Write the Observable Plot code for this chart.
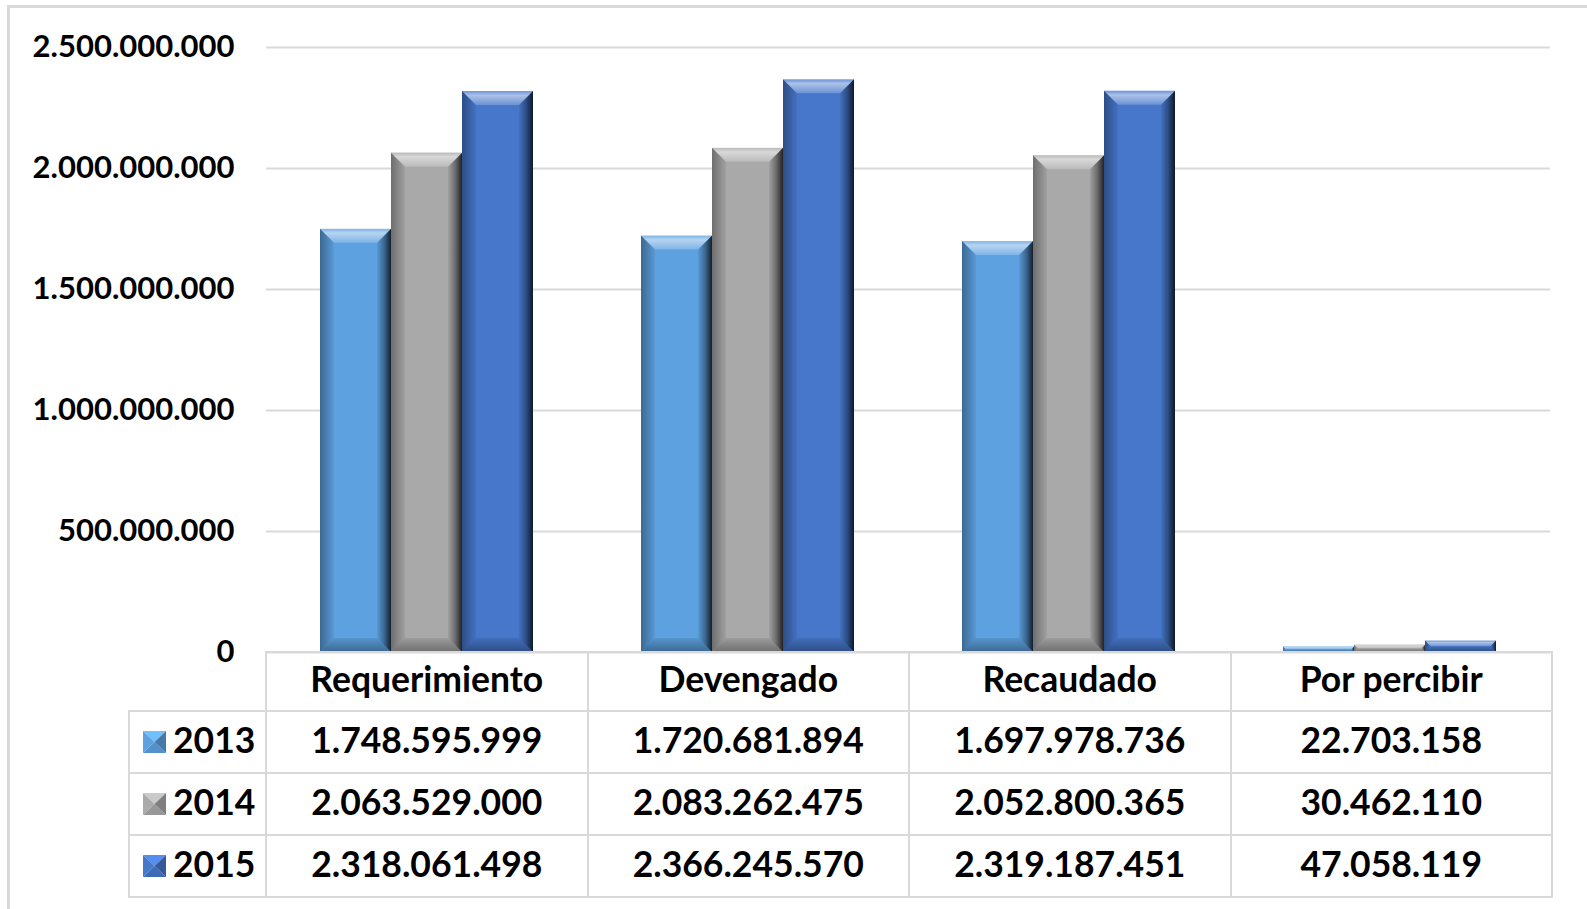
<!DOCTYPE html>
<html>
<head>
<meta charset="utf-8">
<script src="https://cdn.jsdelivr.net/npm/d3@7"></script>
<script src="https://cdn.jsdelivr.net/npm/@observablehq/plot@0.6"></script>
<style>
  html, body { margin: 0; padding: 0; background: #fff; }
  #wrap { position: relative; width: 1587px; height: 909px; overflow: hidden; font-family: Lato, "Open Sans", sans-serif; }
  #frameTop { position: absolute; left: 7px; top: 5px; right: 0; height: 3px; background: #D9D9D9; }
  #frameLeft { position: absolute; left: 7px; top: 5px; width: 3px; bottom: 0; background: #D9D9D9; }
  #chart { position: absolute; left: 0; top: 0; }
  #tbl { position: absolute; left: 128px; top: 651px; border-collapse: collapse; table-layout: fixed; width: 1423px;
         font-family: Lato, sans-serif; font-weight: 700; font-size: 35.5px; color: #000; }
  #tbl td { border: 2px solid #D9D9D9; text-align: center; padding: 0 0 5px 0; line-height: 1; white-space: nowrap; }
  #tbl td.corner { border: none; }
  #tbl tr.head td { height: 52px; }
  #tbl tr.row td { height: 55px; }
  #tbl td.leg { text-align: left; padding-left: 13px; }
  #tbl td.leg div { display: flex; align-items: center; }
  #tbl td.leg svg { margin-right: 7px; margin-top: 4px; }
</style>
</head>
<body>
<div id="wrap">
  <div id="frameTop"></div>
  <div id="frameLeft"></div>
  <div id="chart"></div>
</div>
<script>
const categories = ["Requerimiento", "Devengado", "Recaudado", "Por percibir"];
const years = ["2013", "2014", "2015"];
const values2013 = [1748595999, 1720681894, 1697978736, 22703158];
const values2014 = [2063529000, 2083262475, 2052800365, 30462110];
const values2015 = [2318061498, 2366245570, 2319187451, 47058119];
const yTicks = [0, 500000000, 1000000000, 1500000000, 2000000000, 2500000000];

const series = [values2013, values2014, values2015];
const colors = ["#5DA1E0", "#A9A9A9", "#4677CB"];
const locale = d3.formatLocale({decimal: ",", thousands: ".", grouping: [3], currency: ["", ""]});
const fmt = locale.format(",.0f");

const data = [];
categories.forEach((c, i) => years.forEach((y, j) => data.push({category: c, year: y, value: series[j][i]})));

const chart = Plot.plot({
  width: 1587,
  height: 653,
  marginTop: 47,
  marginBottom: 1,
  marginLeft: 265,
  marginRight: 36,
  style: {fontFamily: "Lato, sans-serif", fontSize: "31px", fontWeight: "700", color: "#000", background: "transparent", overflow: "visible"},
  fx: {domain: categories, padding: 0, axis: null, label: null},
  x: {domain: years, paddingInner: 0, paddingOuter: 0.75, axis: null, label: null},
  y: {domain: [0, 2500000000], axis: null, label: null},
  color: {domain: years, range: colors},
  marks: [
    Plot.gridY(yTicks, {stroke: "#D9D9D9", strokeWidth: 2, strokeOpacity: 1}),
    Plot.barY(data, {fx: "category", x: "year", y: "value", fill: "year"}),
    Plot.axisY(yTicks, {label: null, tickSize: 0, tickPadding: 32, tickFormat: fmt, fontSize: 31, fontWeight: 700, fill: "#000"})
  ]
});
document.getElementById("chart").appendChild(chart);

// bevel decoration derived from the bars Plot rendered
const svg = d3.select(chart.tagName.toLowerCase() === "svg" ? chart : chart.querySelector("svg"));
const defs = svg.insert("defs", ":first-child");
function grad(id, horizontal, stops) {
  const g = defs.append("linearGradient").attr("id", id)
    .attr("x1", 0).attr("y1", 0).attr("x2", horizontal ? 1 : 0).attr("y2", horizontal ? 0 : 1);
  stops.forEach(([o, c, a]) => g.append("stop").attr("offset", o).attr("stop-color", c).attr("stop-opacity", a));
}
grad("bvRight", true, [[0, "#000", 0.05], [0.5, "#000", 0.35], [1, "#000", 0.8]]);
grad("bvLeft", true, [[0, "#000", 0.35], [1, "#000", 0.05]]);
grad("bvTop", false, [[0, "#fff", 0.2], [0.3, "#fff", 0.55], [1, "#fff", 0.2]]);
grad("bvBottom", false, [[0, "#000", 0.08], [1, "#000", 0.35]]);

svg.selectAll('g[aria-label="bar"] rect').each(function () {
  const r = d3.select(this);
  const x0 = +r.attr("x"), y0 = +r.attr("y"), w = +r.attr("width"), h = +r.attr("height");
  const x1 = x0 + w, y1 = y0 + h;
  const b = Math.min(14, h / 2, w / 2);
  const p = d3.select(this.parentNode);
  const poly = (pts, fill) => p.append("polygon").attr("points", pts.map(q => q.join(",")).join(" ")).attr("fill", fill);
  poly([[x0, y0], [x0 + b, y0 + b], [x0 + b, y1 - b], [x0, y1]], "url(#bvLeft)");
  poly([[x1, y0], [x1 - b, y0 + b], [x1 - b, y1 - b], [x1, y1]], "url(#bvRight)");
  poly([[x0, y1], [x1, y1], [x1 - b, y1 - b], [x0 + b, y1 - b]], "url(#bvBottom)");
  poly([[x0, y0], [x1, y0], [x1 - b, y0 + b], [x0 + b, y0 + b]], "url(#bvTop)");
});

// data table below the plot
function swatch(color) {
  const c = d3.color(color);
  const light = c.brighter(0.5).formatHex(), dark = c.darker(0.8).formatHex(), mid = c.darker(0.3).formatHex();
  return `<svg width="23" height="22" viewBox="0 0 23 22">
    <polygon points="0,0 23,0 11.5,11" fill="${light}"/>
    <polygon points="0,22 23,22 11.5,11" fill="${mid}"/>
    <polygon points="0,0 0,22 11.5,11" fill="${c.formatHex()}"/>
    <polygon points="23,0 23,22 11.5,11" fill="${dark}"/>
  </svg>`;
}
let html = '<colgroup><col style="width:137px">' + categories.map(() => '<col style="width:321.5px">').join("") + '</colgroup>';
html += '<tr class="head"><td class="corner"></td>' + categories.map(c => `<td>${c}</td>`).join("") + '</tr>';
years.forEach((y, j) => {
  html += `<tr class="row"><td class="leg"><div>${swatch(colors[j])}<span>${y}</span></div></td>` +
    series[j].map(v => `<td>${fmt(v)}</td>`).join("") + '</tr>';
});
const tbl = document.createElement("table");
tbl.id = "tbl";
tbl.innerHTML = html;
document.getElementById("wrap").appendChild(tbl);
</script>
</body>
</html>
